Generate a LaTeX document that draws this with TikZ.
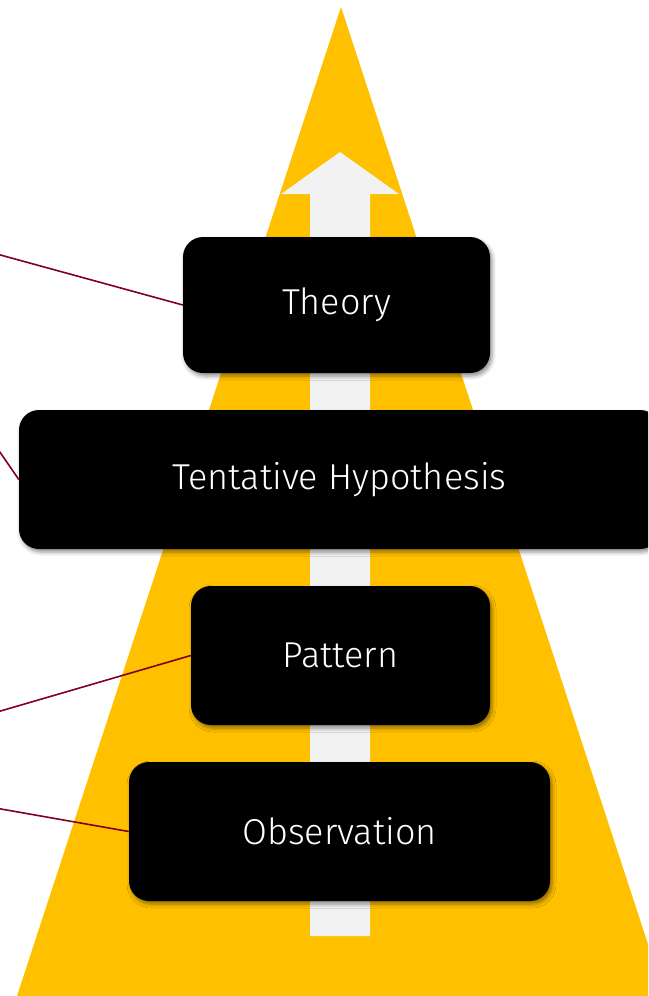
\documentclass[tikz,border=0pt]{standalone}
\usepackage{fontspec}
\newfontfamily\boxfont{Fira Sans}[UprightFont=* Light]
\usetikzlibrary{shadows.blur}
\definecolor{pyramid}{RGB}{255,192,0}
\definecolor{arrowgrey}{RGB}{242,242,242}
\definecolor{leader}{RGB}{128,0,32}
\tikzset{
  stage/.style={rectangle, rounded corners=20pt, fill=black, text=white,
    inner sep=0pt, font=\boxfont\fontsize{36}{42}\selectfont,
    blur shadow={shadow xshift=2pt, shadow yshift=-3pt, shadow blur radius=4pt, shadow opacity=45}},
  leaderline/.style={draw=leader, line width=1.6pt},
}
\begin{document}
\begin{tikzpicture}[x=1pt, y=-1pt]
  \clip (0,0) rectangle (648,996);
  % pyramid
  \fill[pyramid] (341,7) -- (17,996) -- (665,996) -- cycle;
  % upward arrow
  \fill[arrowgrey] (340,152) -- (399,194) -- (370,194) -- (370,936)
    -- (310,936) -- (310,194) -- (281,194) -- cycle;
  % stages
  \node[stage, minimum width=307pt, minimum height=136pt] (theory) at (336.5,305) {Theory};
  \node[stage, minimum width=641pt, minimum height=139pt] (hypo) at (339.5,479.5) {Tentative Hypothesis};
  \node[stage, minimum width=299pt, minimum height=139pt] (pattern) at (340.5,655.5) {Pattern};
  \node[stage, minimum width=421pt, minimum height=139pt] (obs) at (339.5,831.5) {Observation};
  % leader lines to the side labels
  \coordinate (l1) at (-20,249.4);
  \coordinate (l2) at (-10,437.7);
  \coordinate (l3) at (-20,717);
  \coordinate (l4) at (-20,805.3);
  \draw[leaderline] (l1) -- (theory.west);
  \draw[leaderline] (l2) -- (hypo.west);
  \draw[leaderline] (l3) -- (pattern.west);
  \draw[leaderline] (l4) -- (obs.west);
\end{tikzpicture}
\end{document}
